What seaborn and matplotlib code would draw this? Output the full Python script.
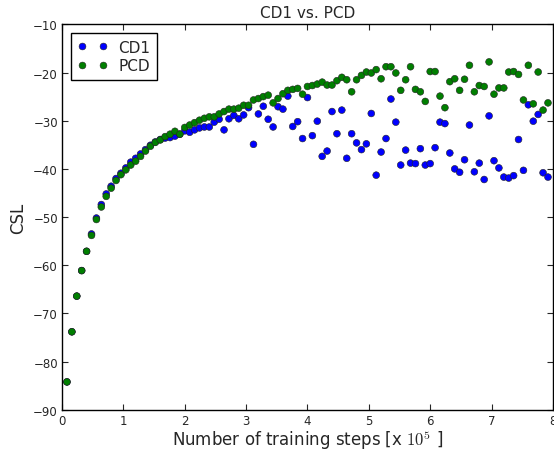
import matplotlib
matplotlib.use("Agg")
import matplotlib.pyplot as plt
import seaborn as sns
import pandas as pd

# training steps, in units of 10^5
steps = [
    0.08, 0.16, 0.24, 0.32, 0.40, 0.48, 0.56, 0.64, 0.72, 0.80,
    0.88, 0.96, 1.04, 1.12, 1.20, 1.28, 1.36, 1.44, 1.52, 1.60,
    1.68, 1.76, 1.84, 1.92, 2.00, 2.08, 2.16, 2.24, 2.32, 2.40,
    2.48, 2.56, 2.64, 2.72, 2.80, 2.88, 2.96, 3.04, 3.12, 3.20,
    3.28, 3.36, 3.44, 3.52, 3.60, 3.68, 3.76, 3.84, 3.92, 4.00,
    4.08, 4.16, 4.24, 4.32, 4.40, 4.48, 4.56, 4.64, 4.72, 4.80,
    4.88, 4.96, 5.04, 5.12, 5.20, 5.28, 5.36, 5.44, 5.52, 5.60,
    5.68, 5.76, 5.84, 5.92, 6.00, 6.08, 6.16, 6.24, 6.32, 6.40,
    6.48, 6.56, 6.64, 6.72, 6.80, 6.88, 6.96, 7.04, 7.12, 7.20,
    7.28, 7.36, 7.44, 7.52, 7.60, 7.68, 7.76, 7.84, 7.92,
]

csl_cd1 = [
    -84.2, -73.8, -66.4, -61.1, -57.1, -53.5, -50.2, -47.4, -45.2, -43.6,
    -42.0, -40.9, -39.8, -38.6, -37.8, -36.9, -36.0, -35.1, -34.4, -33.9,
    -33.6, -33.5, -33.2, -32.8, -32.1, -32.4, -31.9, -31.5, -31.3, -31.3,
    -30.3, -29.7, -31.9, -29.6, -28.9, -29.6, -28.8, -27.3, -34.9, -28.6,
    -27.0, -29.7, -31.3, -27.1, -27.6, -24.9, -31.2, -30.2, -33.7, -25.2,
    -33.1, -30.1, -37.4, -36.3, -28.1, -32.7, -27.8, -37.8, -32.7, -34.6,
    -36.0, -34.8, -28.5, -41.3, -36.5, -33.7, -25.5, -30.3, -39.2, -36.1,
    -38.8, -38.9, -35.8, -39.2, -38.9, -35.6, -30.3, -30.6, -36.7, -40.0,
    -40.7, -38.1, -30.9, -40.6, -38.8, -42.2, -29.0, -38.3, -39.8, -41.7,
    -41.9, -41.4, -33.9, -40.3, -26.7, -30.1, -28.7, -40.8, -41.7,
]

csl_pcd = [
    -84.2, -73.8, -66.4, -61.1, -57.1, -53.8, -50.5, -47.9, -45.7, -44.0,
    -42.4, -41.2, -40.2, -39.2, -38.4, -37.4, -36.3, -35.3, -34.5, -34.0,
    -33.3, -32.8, -32.2, -32.8, -31.4, -30.9, -30.4, -29.9, -29.5, -29.2,
    -29.2, -28.6, -28.1, -27.6, -27.6, -27.4, -26.8, -26.8, -25.7, -25.4,
    -25.0, -24.7, -26.3, -25.4, -24.4, -23.7, -23.5, -23.3, -24.5, -22.9,
    -22.7, -22.4, -22.0, -22.6, -22.6, -21.7, -21.0, -21.5, -24.0, -21.5,
    -20.6, -19.9, -20.1, -19.4, -21.3, -18.8, -18.8, -20.1, -23.7, -21.5,
    -18.8, -23.5, -24.0, -26.0, -19.8, -19.8, -24.9, -27.3, -21.9, -21.3,
    -23.7, -21.4, -18.5, -24.0, -22.7, -22.9, -17.8, -24.5, -23.2, -23.2,
    -19.9, -19.8, -20.4, -25.7, -18.5, -26.5, -19.9, -27.8, -26.3,
]

methods = ["CD1", "PCD"]
method_colors = {"CD1": "#0000ff", "PCD": "#007f00"}

sns.set_style("ticks", {
    "xtick.direction": "in",
    "ytick.direction": "in",
    "axes.edgecolor": "black",
})
plt.rcParams["font.family"] = ["DejaVu Sans"]
plt.rcParams["mathtext.fontset"] = "cm"

df = pd.DataFrame({
    "steps": steps + steps,
    "CSL": csl_cd1 + csl_pcd,
    "method": ["CD1"] * len(steps) + ["PCD"] * len(steps),
})

fig = plt.figure(figsize=(5.54, 4.52), dpi=100)
ax = fig.add_axes([0.112, 0.091, 0.886, 0.853])

sns.scatterplot(
    data=df, x="steps", y="CSL", hue="method", hue_order=methods,
    palette=method_colors, s=24, edgecolor="#222222", linewidth=0.4,
    ax=ax,
)

ax.set_xlim(0, 8)
ax.set_ylim(-90, -10)
ax.set_xticks(range(0, 9))
ax.set_yticks(range(-90, 0, 10))
ax.tick_params(axis="both", which="major", labelsize=8.5, length=4,
               width=0.8, top=True, right=True, direction="in", pad=3)
for sp in ax.spines.values():
    sp.set_linewidth(1.0)

ax.set_title("CD1 vs. PCD", fontsize=11, pad=5)
ax.set_xlabel(r"Number of training steps [x $10^5$ ]", fontsize=12, labelpad=0)
ax.set_ylabel("CSL", fontsize=12, labelpad=4)

handles, labels = ax.get_legend_handles_labels()
leg = ax.legend(handles, labels, loc="upper left", numpoints=2, scatterpoints=2,
                fontsize=11, frameon=True, fancybox=False, borderaxespad=0.6,
                handletextpad=0.7, handlelength=2.0, borderpad=0.4, labelspacing=0.25)
leg.get_frame().set_edgecolor("black")
leg.get_frame().set_linewidth(1.0)
leg.get_frame().set_alpha(1.0)

fig.savefig("out.png", dpi=100)
